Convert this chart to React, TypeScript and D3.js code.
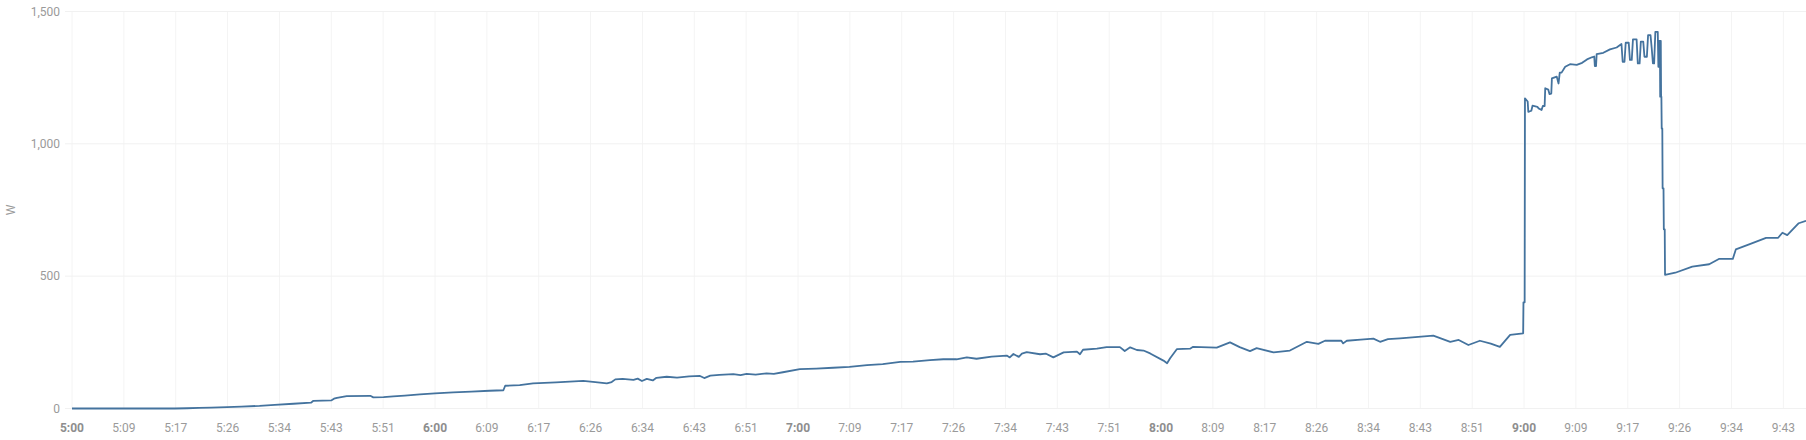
import React, { useEffect, useRef } from 'react';
import * as d3 from 'd3';

// minutes after 5:00, watts
const powerSamples: [number, number][] = [
  [0, 0], [17, 0], [19, 1], [21, 2], [23, 3], [25.6, 5], [28, 7], [31, 10],
  [33.5, 14], [36.6, 18], [39.5, 22], [39.9, 29], [42.9, 31], [43.3, 37], [43.8, 40],
  [45.4, 47], [49.3, 48], [49.8, 42], [51.5, 43], [53.1, 46], [55, 49], [57.5, 53],
  [60, 57], [63, 61], [66, 64], [69, 67], [71.3, 69], [71.6, 86], [74, 88],
  [76.2, 95], [80, 99], [84.5, 104], [86.5, 100], [88.4, 95], [89.2, 100], [89.8, 110],
  [91, 112], [92.8, 108], [93.5, 113], [94.2, 104], [95, 112], [96, 106], [96.6, 116],
  [98.3, 120], [100, 117], [102, 121], [103.8, 123], [104.5, 115], [105.5, 124],
  [107, 127], [109.3, 130], [110.5, 126], [111.5, 131], [113, 128], [114.8, 133],
  [116, 131], [117.5, 137], [120.3, 149], [123, 151], [125.8, 154], [128.5, 157],
  [131.4, 164], [134, 168], [136.9, 176], [139, 177], [141.8, 183], [144, 186],
  [146.2, 186], [147.9, 193], [149.5, 188], [152, 196], [154.5, 200], [155, 193],
  [155.6, 206], [156.5, 195], [157, 207], [157.8, 213], [160, 205], [161, 207],
  [162.2, 193], [163.9, 212], [166.1, 215], [166.6, 205], [167.1, 222], [169.4, 226],
  [171, 232], [173.2, 232], [174, 217], [174.9, 231], [176, 221], [177.1, 219],
  [178.2, 208], [180.4, 181], [181, 171], [181.5, 190], [182.6, 224], [184.8, 226],
  [185.3, 233], [189.2, 230], [191.4, 250], [193, 232], [194.7, 217], [195.8, 228],
  [198.6, 212], [201.3, 219], [204.1, 252], [206, 244], [207.1, 256], [209.8, 256],
  [210.1, 246], [210.7, 256], [213, 260], [215.1, 264], [216.2, 252], [217.5, 262],
  [219.5, 265], [222, 270], [225, 275], [227.8, 252], [229.2, 259], [230.8, 240],
  [232.7, 256], [234.5, 245], [236, 233], [237.7, 278], [239.85, 284], [239.9, 401],
  [240.1, 401], [240.15, 1172], [240.6, 1160], [240.7, 1121], [241.2, 1125], [241.4, 1144],
  [242.2, 1140], [242.4, 1134], [242.9, 1128], [243.1, 1143], [243.4, 1143], [243.5, 1210],
  [244.0, 1205], [244.2, 1188], [244.5, 1190], [244.6, 1247], [245.4, 1254],
  [245.7, 1228], [245.9, 1269], [246.2, 1269], [246.8, 1291], [247.6, 1301], [248.7, 1298],
  [249.6, 1306], [250.4, 1319], [251.2, 1327], [251.6, 1330], [251.7, 1294], [251.9, 1294],
  [252.0, 1339], [253.1, 1344], [254.2, 1357], [255.3, 1364], [256.1, 1377], [256.3, 1310],
  [256.6, 1310], [256.8, 1382], [257.3, 1382], [257.5, 1317], [257.8, 1317], [258.0, 1395],
  [258.6, 1395], [258.8, 1304], [259.1, 1304], [259.3, 1386], [259.7, 1386], [259.9, 1329],
  [260.3, 1329], [260.5, 1411], [260.9, 1411], [261.1, 1361], [261.3, 1304], [261.5, 1304],
  [261.7, 1423], [262.1, 1423], [262.2, 1291], [262.3, 1291], [262.35, 1389], [262.45, 1389],
  [262.5, 1178], [262.55, 1389], [262.6, 1389], [262.65, 1178], [262.7, 1178],
  [262.75, 1058], [262.85, 1058], [262.9, 832], [263.05, 832], [263.1, 677], [263.25, 677],
  [263.3, 505], [265, 513], [267.8, 536], [270.6, 545], [272.2, 565], [274.5, 565],
  [275, 601], [277.2, 620], [280, 645], [282, 645], [282.7, 664], [283.5, 655],
  [285.4, 700], [286.6, 709],
];

const xTickLabels = [
  '5:00', '5:09', '5:17', '5:26', '5:34', '5:43', '5:51',
  '6:00', '6:09', '6:17', '6:26', '6:34', '6:43', '6:51',
  '7:00', '7:09', '7:17', '7:26', '7:34', '7:43', '7:51',
  '8:00', '8:09', '8:17', '8:26', '8:34', '8:43', '8:51',
  '9:00', '9:09', '9:17', '9:26', '9:34', '9:43',
];
const tickStepMinutes = 60 / 7;

const yTicks = [0, 500, 1000, 1500];
const unitLabel = 'W';

const App: React.FC = () => {
  const svgRef = useRef<SVGSVGElement>(null);

  useEffect(() => {
    document.body.style.margin = '0';
    if (!svgRef.current) return;

    const width = 1806;
    const height = 440;
    const margin = { top: 11.5, right: 0, bottom: 31.5, left: 72 };

    const svg = d3.select(svgRef.current);
    svg.selectAll('*').remove();
    svg.attr('width', width).attr('height', height)
      .style('display', 'block')
      .style('font-family', 'Roboto, sans-serif');

    const x = d3.scaleLinear()
      .domain([0, 286.6])
      .range([margin.left, width - margin.right]);

    const y = d3.scaleLinear()
      .domain([0, 1500])
      .range([height - margin.bottom, margin.top]);

    const tickMinutes = xTickLabels.map((_, i) => i * tickStepMinutes);

    // vertical grid
    svg.append('g')
      .selectAll('line')
      .data(tickMinutes)
      .enter()
      .append('line')
      .attr('x1', d => x(d)).attr('x2', d => x(d))
      .attr('y1', y(1500)).attr('y2', y(0))
      .attr('stroke', '#f4f4f4')
      .attr('stroke-width', 1);

    // horizontal grid
    svg.append('g')
      .selectAll('line')
      .data(yTicks)
      .enter()
      .append('line')
      .attr('x1', x(0) - 7).attr('x2', width)
      .attr('y1', d => y(d)).attr('y2', d => y(d))
      .attr('stroke', '#f1f1f1')
      .attr('stroke-width', 1);

    // y labels
    svg.append('g')
      .selectAll('text')
      .data(yTicks)
      .enter()
      .append('text')
      .attr('x', 60)
      .attr('y', d => y(d))
      .attr('dy', '0.35em')
      .attr('text-anchor', 'end')
      .attr('font-size', 12)
      .attr('fill', '#9a9a9a')
      .text(d => d3.format(',')(d));

    // x labels
    svg.append('g')
      .selectAll('text')
      .data(xTickLabels)
      .enter()
      .append('text')
      .attr('x', (_, i) => x(tickMinutes[i]))
      .attr('y', 432)
      .attr('text-anchor', 'middle')
      .attr('font-size', 12)
      .attr('font-weight', d => (d.endsWith(':00') ? 'bold' : 'normal'))
      .attr('fill', d => (d.endsWith(':00') ? '#8e8e8e' : '#9a9a9a'))
      .text(d => d);

    svg.append('text')
      .attr('transform', `translate(15,${(y(0) + y(1500)) / 2}) rotate(-90)`)
      .attr('text-anchor', 'middle')
      .attr('font-size', 12)
      .attr('fill', '#9a9a9a')
      .text(unitLabel);

    const line = d3.line<[number, number]>()
      .x(d => x(d[0]))
      .y(d => y(d[1]))
      .curve(d3.curveLinear);

    svg.append('path')
      .datum(powerSamples)
      .attr('fill', 'none')
      .attr('stroke', '#44739e')
      .attr('stroke-width', 1.8)
      .attr('stroke-linejoin', 'round')
      .attr('d', line);
  }, []);

  return <svg ref={svgRef}></svg>;
};

export default App;
